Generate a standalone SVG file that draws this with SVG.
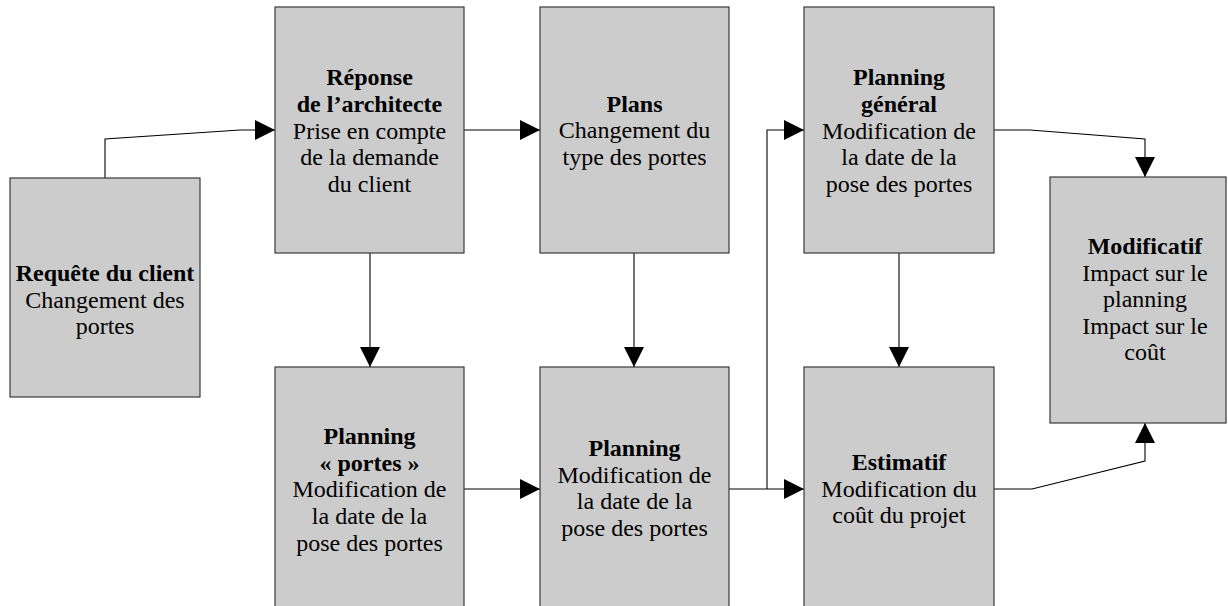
<svg xmlns="http://www.w3.org/2000/svg" width="1228" height="606" viewBox="0 0 1228 606">
<style>
.box{fill:#cccccc;stroke:#3a3a3a;stroke-width:1.2}
.t{font-family:"Liberation Serif","Times New Roman",serif;font-size:24px;fill:#000;text-anchor:middle}
.b{font-weight:bold}
.c{fill:none;stroke:#000;stroke-width:1.1}
</style>
<defs>
<marker id="ah" markerUnits="userSpaceOnUse" markerWidth="20" markerHeight="20" viewBox="0 0 18 18" refX="18" refY="9" orient="auto">
<path d="M0,0 L18,9 L0,18 Z" fill="#000"/>
</marker>
</defs>
<rect width="1228" height="606" fill="#fff"/>
<g id="connectors">
<path class="c" d="M105,178 V139 L240,130 H275" marker-end="url(#ah)"/>
<path class="c" d="M464,130 H540" marker-end="url(#ah)"/>
<path class="c" d="M370,253 V367" marker-end="url(#ah)"/>
<path class="c" d="M634,253 V367" marker-end="url(#ah)"/>
<path class="c" d="M899,253 V367" marker-end="url(#ah)"/>
<path class="c" d="M464,489 H540" marker-end="url(#ah)"/>
<path class="c" d="M729,489 H804" marker-end="url(#ah)"/>
<path class="c" d="M767,489 V130 H804" marker-end="url(#ah)"/>
<path class="c" d="M994,130 H1030 L1145,139 V177" marker-end="url(#ah)"/>
<path class="c" d="M994,489 H1032 L1145,461 V423" marker-end="url(#ah)"/>
</g>
<g id="requete">
<rect class="box" x="10" y="178" width="190" height="219"/>
<text class="t b" x="105" y="281">Requête du client</text>
<text class="t" x="105" y="307.5">Changement des</text>
<text class="t" x="105" y="334">portes</text>
</g>
<g id="reponse">
<rect class="box" x="275" y="7" width="189" height="246"/>
<text class="t b" x="369.5" y="85">Réponse</text>
<text class="t b" x="369.5" y="112">de l’architecte</text>
<text class="t" x="369.5" y="138.5">Prise en compte</text>
<text class="t" x="369.5" y="165">de la demande</text>
<text class="t" x="369.5" y="191.7">du client</text>
</g>
<g id="plans">
<rect class="box" x="540" y="7" width="189" height="246"/>
<text class="t b" x="634.5" y="111.5">Plans</text>
<text class="t" x="634.5" y="138">Changement du</text>
<text class="t" x="634.5" y="164.7">type des portes</text>
</g>
<g id="planning-general">
<rect class="box" x="804" y="7" width="190" height="246"/>
<text class="t b" x="899" y="85">Planning</text>
<text class="t b" x="899" y="111.7">général</text>
<text class="t" x="899" y="138.5">Modification de</text>
<text class="t" x="899" y="165.2">la date de la</text>
<text class="t" x="899" y="192">pose des portes</text>
</g>
<g id="modificatif">
<rect class="box" x="1050" y="177" width="176" height="246"/>
<text class="t b" x="1145" y="254">Modificatif</text>
<text class="t" x="1145" y="280.5">Impact sur le</text>
<text class="t" x="1145" y="307">planning</text>
<text class="t" x="1145" y="333.5">Impact sur le</text>
<text class="t" x="1145" y="360">coût</text>
</g>
<g id="planning-portes">
<rect class="box" x="275" y="367" width="189" height="260"/>
<text class="t b" x="369.5" y="444.3">Planning</text>
<text class="t b" x="369.5" y="470.7">« portes »</text>
<text class="t" x="369.5" y="497.3">Modification de</text>
<text class="t" x="369.5" y="524">la date de la</text>
<text class="t" x="369.5" y="550.7">pose des portes</text>
</g>
<g id="planning">
<rect class="box" x="540" y="367" width="189" height="260"/>
<text class="t b" x="634.5" y="456">Planning</text>
<text class="t" x="634.5" y="482.7">Modification de</text>
<text class="t" x="634.5" y="509.3">la date de la</text>
<text class="t" x="634.5" y="536">pose des portes</text>
</g>
<g id="estimatif">
<rect class="box" x="804" y="367" width="190" height="260"/>
<text class="t b" x="899" y="470">Estimatif</text>
<text class="t" x="899" y="496.7">Modification du</text>
<text class="t" x="899" y="523.3">coût du projet</text>
</g>
</svg>
